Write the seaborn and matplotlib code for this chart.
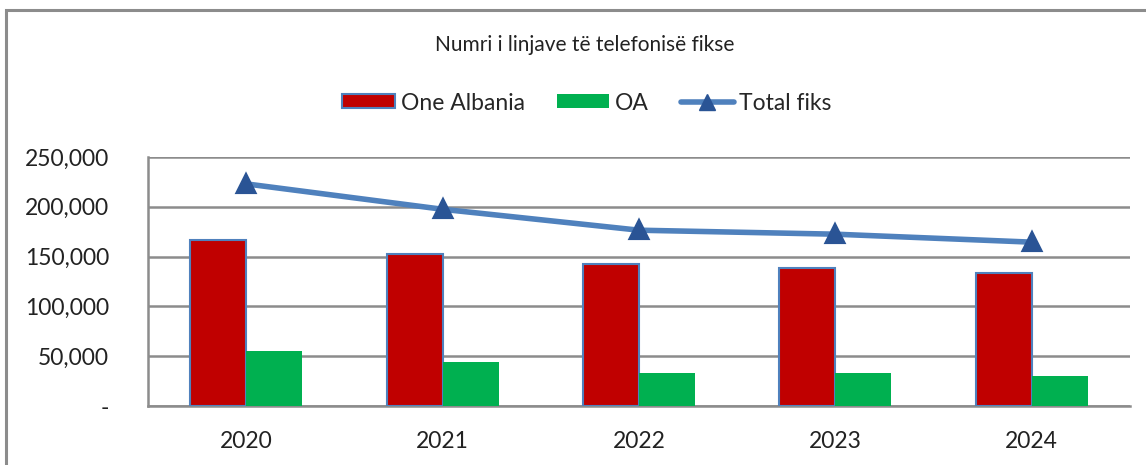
import matplotlib
matplotlib.use("Agg")
import matplotlib.pyplot as plt
import matplotlib.ticker as mticker
from matplotlib.patches import Patch, Rectangle
from matplotlib.lines import Line2D
import seaborn as sns
import pandas as pd

years = ["2020", "2021", "2022", "2023", "2024"]
one_albania = [167000, 153000, 143000, 139000, 134000]
oa = [55000, 44500, 33500, 33500, 30500]
total_fiks = [223000, 197500, 176500, 172500, 164500]

title = "Numri i linjave të telefonisë fikse"
series_names = ["One Albania", "OA", "Total fiks"]

RED = "#C00000"
GREEN = "#00B050"
BLUE = "#4F81BD"
DARK_BLUE = "#2A5495"
GRID = "#8C8C8C"

sns.set_theme(style="white")
plt.rcParams["font.family"] = ["Lato", "DejaVu Sans"]

bars = pd.DataFrame({
    "year": years * 2,
    "value": one_albania + oa,
    "series": [series_names[0]] * len(years) + [series_names[1]] * len(years),
})
line = pd.DataFrame({"year": years, "total": total_fiks})

fig = plt.figure(figsize=(11.46, 4.65), dpi=100)
ax = fig.add_axes([148 / 1146, 1 - 406 / 465, (1130 - 148) / 1146, (406 - 157) / 465])

sns.barplot(data=bars, x="year", y="value", hue="series",
            palette=[RED, GREEN], width=0.57, gap=0, ax=ax,
            legend=False, saturation=1, zorder=3)
# red bars carry the thin blue outline like the original
for p in ax.patches:
    if matplotlib.colors.to_hex(p.get_facecolor()).upper() == RED:
        p.set_edgecolor(BLUE)
        p.set_linewidth(1.5)
    else:
        p.set_linewidth(0)

sns.pointplot(data=line, x="year", y="total", color=BLUE, markers="^",
              linestyles="-", linewidth=4, markersize=11, ax=ax, zorder=4)
for ln in ax.lines:
    if ln.get_marker() == "^":
        ln.set_markerfacecolor(DARK_BLUE)
        ln.set_markeredgecolor(DARK_BLUE)

ax.set_ylim(0, 250000)
ax.set_xlim(-0.5, 4.5)
ax.yaxis.set_major_locator(mticker.MultipleLocator(50000))
ax.yaxis.set_major_formatter(mticker.FuncFormatter(lambda v, p: "-" if v == 0 else f"{v:,.0f}"))
ax.grid(axis="y", color=GRID, linewidth=1.8, zorder=0)
ax.set_axisbelow(True)
ax.set_xlabel("")
ax.set_ylabel("")
for s in ["top", "right"]:
    ax.spines[s].set_visible(False)
for s in ["left", "bottom"]:
    ax.spines[s].set_color(GRID)
    ax.spines[s].set_linewidth(1.8)
ax.tick_params(axis="y", labelsize=16.5, pad=28, length=0, colors="#222222")
ax.tick_params(axis="x", labelsize=16.5, pad=18, length=0, colors="#222222")

fig.text(585 / 1146, 1 - 45 / 465, title, ha="center", va="center",
         fontsize=15, color="#222222")

handles = [
    Patch(facecolor=RED, edgecolor=BLUE, linewidth=1.5),
    Patch(facecolor=GREEN, edgecolor="none"),
    Line2D([], [], color=BLUE, linewidth=4, marker="^", markersize=11,
           markerfacecolor=DARK_BLUE, markeredgecolor=DARK_BLUE),
]
fig.legend(handles, series_names, loc="center", bbox_to_anchor=(587 / 1146, 1 - 103 / 465),
           ncol=3, frameon=False, fontsize=16.5, handlelength=2.3, handleheight=0.55,
           handletextpad=0.25, columnspacing=1.4, numpoints=1)

# outer chart frame (cropped on the right and bottom)
fig.patches.append(Rectangle((6 / 1146, -0.2), 1.2, 1.2 - 10 / 465, transform=fig.transFigure,
                             fill=False, edgecolor=GRID, linewidth=2.2))

fig.savefig("out.png", dpi=100)
